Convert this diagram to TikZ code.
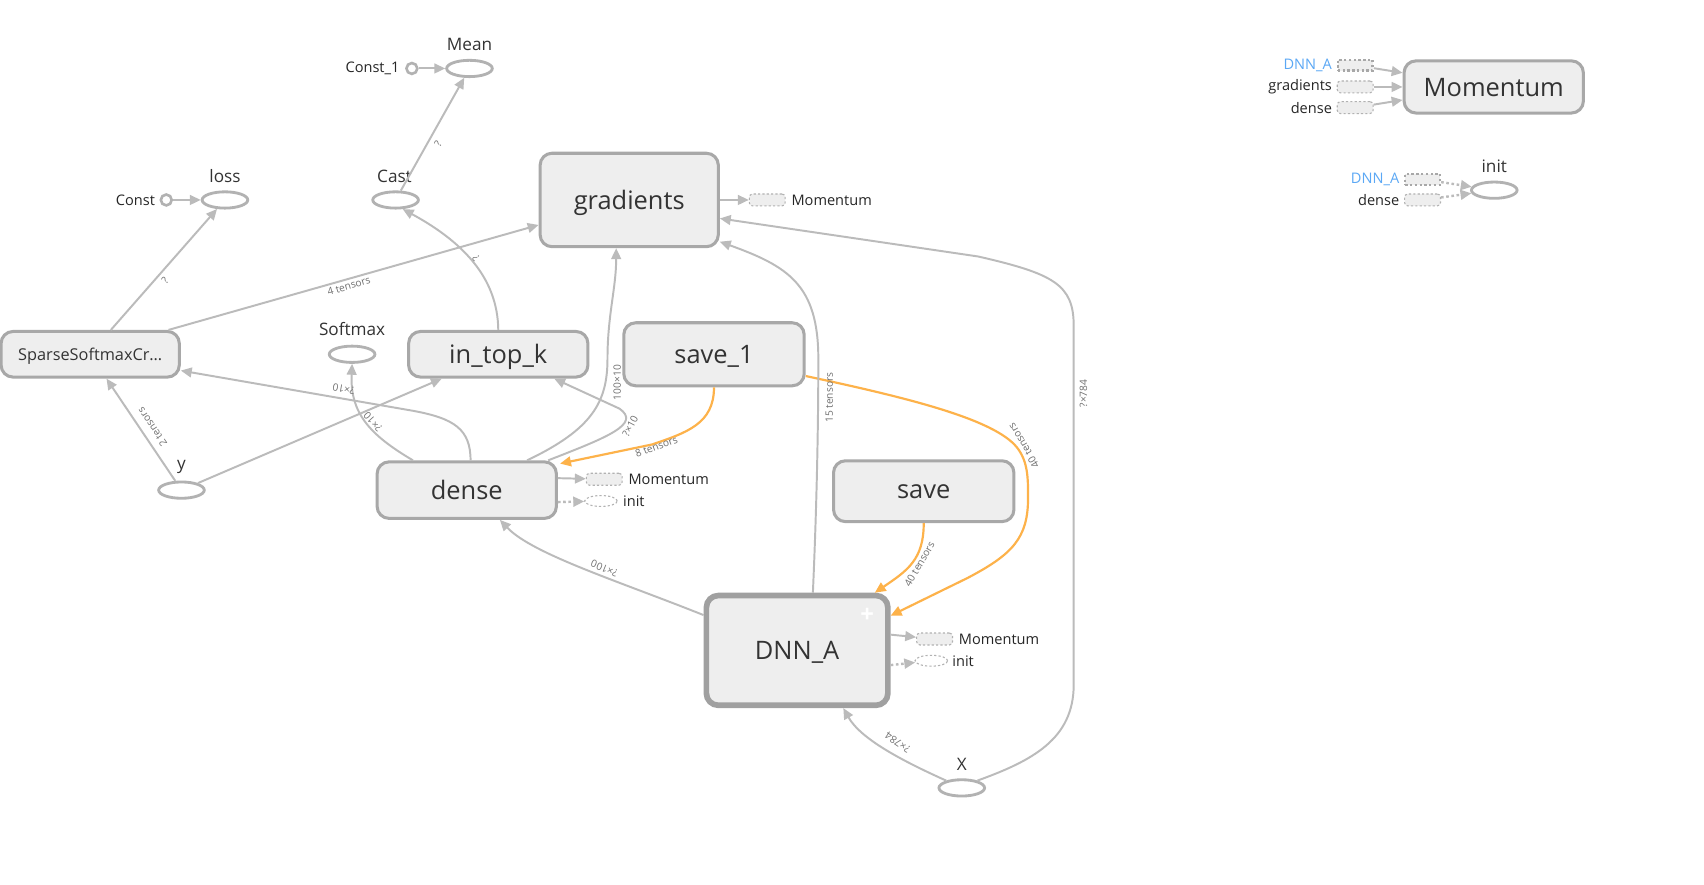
\documentclass[tikz,border=0pt]{standalone}
\usepackage{fontspec}
\setmainfont{Open Sans}
\usetikzlibrary{arrows.meta,shapes.geometric}
\definecolor{boxfill}{HTML}{EEEEEE}
\definecolor{boxline}{HTML}{A8A8A8}
\definecolor{ellline}{HTML}{B2B2B2}
\definecolor{edgec}{HTML}{BBBBBB}
\definecolor{orng}{HTML}{FDB24A}
\definecolor{blu}{HTML}{5BA8F5}
\definecolor{txt}{HTML}{333333}
\definecolor{lblc}{HTML}{707070}
\begin{document}
\begin{tikzpicture}[x=0.5pt,y=-0.5pt,
  opbox/.style={rectangle, draw=boxline, fill=boxfill, line width=1.4pt, rounded corners=5.5pt, inner sep=0pt, text depth=0pt, text=txt, font=\fontsize{11.7}{14}\selectfont},
  ellip/.style={ellipse, draw=ellline, fill=white, line width=1.3pt, minimum width=21pt, minimum height=7.5pt, inner sep=0pt},
  cst/.style={circle, draw=ellline, fill=white, line width=1.2pt, minimum size=5pt, inner sep=0pt},
  ghost/.style={rectangle, draw=ellline, fill=boxfill, line width=0.5pt, dash pattern=on 1pt off 1pt, rounded corners=1.5pt, minimum width=16.5pt, minimum height=5.5pt, inner sep=0pt},
  ghostdot/.style={rectangle, draw=boxline, fill=boxfill, line width=1.1pt, dash pattern=on 1.1pt off 1.1pt, minimum width=16pt, minimum height=5pt, inner sep=0pt},
  ghostell/.style={ellipse, draw=ellline, fill=white, line width=0.5pt, dash pattern=on 1pt off 1pt, minimum width=15pt, minimum height=5pt, inner sep=0pt},
  mlbl/.style={inner sep=0pt, text=txt, font=\fontsize{7.9}{9}\selectfont},
  slbl/.style={inner sep=0pt, text=black!85, font=\fontsize{6.7}{8}\selectfont},
  elbl/.style={inner sep=0pt, text=lblc, font=\fontsize{4.7}{5.5}\selectfont},
  edge/.style={draw=edgec, line width=0.9pt, -{Triangle[length=5pt,width=4.5pt]}},
  oedge/.style={draw=orng, line width=1pt, -{Triangle[length=5pt,width=4.5pt]}},
  dedge/.style={draw=edgec, line width=1.1pt, dash pattern=on 1.2pt off 1.2pt, -{Triangle[length=5pt,width=4.5pt]}}
]
\fill[white] (0,0) rectangle (1568,813.5);
\useasboundingbox (0,0) rectangle (1568,813.5);

% ---------- nodes ----------
\node[ellip] (mean) at (432,63) {};
\node[mlbl] (meanl) at (432,41) {Mean};
\node[cst] (const1) at (379,63) {};
\node[slbl, anchor=east] (const1l) at (368,63) {Const\_1};
\node[ellip] (loss) at (207,184) {};
\node[mlbl] (lossl) at (207,162) {loss};
\node[cst] (const) at (153,184) {};
\node[slbl, anchor=east] (constl) at (143,184) {Const};
\node[ellip] (cast) at (364,184) {};
\node[mlbl] (castl) at (363,162) {Cast};
\node[opbox, minimum width=82pt, minimum height=43pt] (grad) at (579,184) {gradients};
\node[ghost] (gmom) at (706,184) {};
\node[slbl, anchor=west] (gmoml) at (728,184) {Momentum};
\node[opbox, font=\fontsize{7.5}{9}\selectfont, minimum width=82pt, minimum height=21pt] (sparse) at (83,326) {SparseSoftmaxCr…};
\node[ellip] (softmax) at (324,326) {};
\node[mlbl] (softmaxl) at (324,303) {Softmax};
\node[opbox, minimum width=82.5pt, minimum height=21pt] (intopk) at (458.5,326) {in\_top\_k};
\node[opbox, minimum width=83pt, minimum height=29pt] (save1) at (657,326) {save\_1};
\node[opbox, minimum width=82.5pt, minimum height=26pt] (dense) at (429.5,451) {dense};
\node[ghost] (dmom) at (556,441) {};
\node[slbl, anchor=west] (dmoml) at (578,441) {Momentum};
\node[ghostell] (dinit) at (553,461) {};
\node[slbl, anchor=west] (dinitl) at (573,461) {init};
\node[ellip] (yv) at (167,451) {};
\node[mlbl] (yl) at (167,430) {y};
\node[opbox, minimum width=83pt, minimum height=28pt] (save) at (850,452) {save};
\node[opbox, draw=boxline!95!black, line width=2.6pt, minimum width=83.5pt, minimum height=50.5pt] (dnna) at (733.5,598.5) {DNN\_A};
\node[inner sep=0pt, text=white, font=\bfseries\fontsize{11}{11}\selectfont] (plus) at (798,566) {+};
\node[ghost] (amom) at (860,588) {};
\node[slbl, anchor=west] (amoml) at (882,588) {Momentum};
\node[ghostell] (ainit) at (857,608) {};
\node[slbl, anchor=west] (ainitl) at (876,608) {init};
\node[ellip] (xv) at (885,725) {};
\node[mlbl] (xl) at (885,703) {X};

% right-hand group
\node[opbox, minimum width=82.5pt, minimum height=24pt] (mom) at (1374.5,80) {Momentum};
\node[ghostdot] (r1) at (1247,60) {};
\node[slbl, anchor=east, text=blu] (r1l) at (1226,60) {DNN\_A};
\node[ghost] (r2) at (1247,80) {};
\node[slbl, anchor=east] (r2l) at (1226,80) {gradients};
\node[ghost] (r3) at (1247,99) {};
\node[slbl, anchor=east] (r3l) at (1226,99) {dense};
\node[ellip] (rinit) at (1375,175) {};
\node[mlbl] (rinitl) at (1375,153) {init};
\node[ghostdot] (i1) at (1309,165) {};
\node[slbl, anchor=east, text=blu] (i1l) at (1288,165) {DNN\_A};
\node[ghost] (i2) at (1309,184) {};
\node[slbl, anchor=east] (i2l) at (1288,184) {dense};

% ---------- edges ----------
\draw[edge] (const1) -- (mean);
\draw[edge] (const) -- (loss);
\draw[edge] (cast) -- (mean);
\draw[edge] ([xshift=9.5pt]sparse.north) -- (loss);
\draw[edge] ([xshift=36pt]sparse.north) -- ([yshift=-11.5pt]grad.west);
\draw[edge] (intopk.north) .. controls (458,255) and (425,222) .. (cast.-52);
\draw[edge] (yv) -- ([xshift=7.5pt]sparse.south);
\draw[edge] (yv) -- ([xshift=-26pt]intopk.south);
\draw[edge] ([xshift=1.75pt]dense.north) .. controls (433,395) and (418,385) .. (380,378) -- ([yshift=-7.5pt]sparse.east);
\draw[edge] ([xshift=-24.75pt]dense.north) .. controls (340,400) and (322,380) .. (softmax.south);
\draw[edge] ([xshift=27.75pt]dense.north) .. controls (545,395) and (559,370) .. (559,330) .. controls (559,290) and (567,265) .. ([xshift=-6pt]grad.south);
\draw[edge] ([xshift=-4.5pt]dense.north east) .. controls (560,402) and (590,390) .. (570,376) -- ([xshift=25.75pt]intopk.south);
\draw[oedge] (save1.south) .. controls (657,390) and (632,398) .. (600,409) -- ([xshift=1pt,yshift=-1.5pt]dense.north east);
\draw[oedge] ([yshift=-10pt]save1.east) .. controls (830,365) and (915,385) .. (936,412) .. controls (946,425) and (946,440) .. (946,458) .. controls (946,495) and (932,510) .. (890,532) -- ([yshift=16pt]dnna.east);
\draw[oedge] (save.south) .. controls (850,515) and (835,525) .. ([xshift=35.75pt]dnna.north);
\draw[edge] ([yshift=16.25pt]dnna.west) .. controls (570,535) and (490,510) .. ([xshift=15.25pt]dense.south);
\draw[edge] (xv.155) .. controls (830,700) and (792,680) .. ([xshift=21.25pt]dnna.south);
\draw[edge] (xv.25) .. controls (950,700) and (988,680) .. (988,630) -- (988,300) .. controls (988,262) and (970,252) .. (900,236) -- ([yshift=-8.5pt]grad.east);
\draw[edge] ([xshift=7.25pt]dnna.north) .. controls (750,500) and (753,420) .. (753,330) .. controls (753,262) and (725,245) .. ([yshift=3pt]grad.south east);

\draw[edge] (grad.east) -- (gmom);
\draw[edge] ([yshift=5.5pt]dense.east) -- (dmom);
\draw[dedge] ([yshift=-5.5pt]dense.east) -- (dinit);
\draw[edge] ([yshift=7.25pt]dnna.east) -- (amom);
\draw[dedge] ([yshift=-6.75pt]dnna.east) -- (ainit);
\draw[edge] (r1) -- ([yshift=6.5pt]mom.west);
\draw[edge] (r2) -- (mom.west);
\draw[edge] (r3) -- ([yshift=-6pt]mom.west);
\draw[dedge] (i1) -- (rinit);
\draw[dedge] (i2) -- (rinit);

% ---------- edge labels ----------
\node[elbl, rotate=60] (l1) at (403,132) {?};
\node[elbl, rotate=49] (l2) at (152,258) {?};
\node[elbl, rotate=16] (l3) at (321,263) {4 tensors};
\node[elbl, rotate=130] (l4) at (438,238) {?};
\node[elbl, rotate=124] (l5) at (140,393) {2 tensors};
\node[elbl, rotate=170] (l6) at (316,358) {?×10};
\node[elbl, rotate=132] (l7) at (343,388) {?×10};
\node[elbl, rotate=90] (l8) at (568,352) {100×10};
\node[elbl, rotate=62] (l9) at (580,392) {?×10};
\node[elbl, rotate=20] (l10) at (604,411) {8 tensors};
\node[elbl, rotate=90] (l11) at (763,366) {15 tensors};
\node[elbl, rotate=121] (l12) at (942,410) {40 tensors};
\node[elbl, rotate=60] (l13) at (846,519) {40 tensors};
\node[elbl, rotate=158] (l14) at (556,523) {?×100};
\node[elbl, rotate=146] (l15) at (826,683) {?×784};
\node[elbl, rotate=90] (l16) at (997,362) {?×784};
\end{tikzpicture}
\end{document}
